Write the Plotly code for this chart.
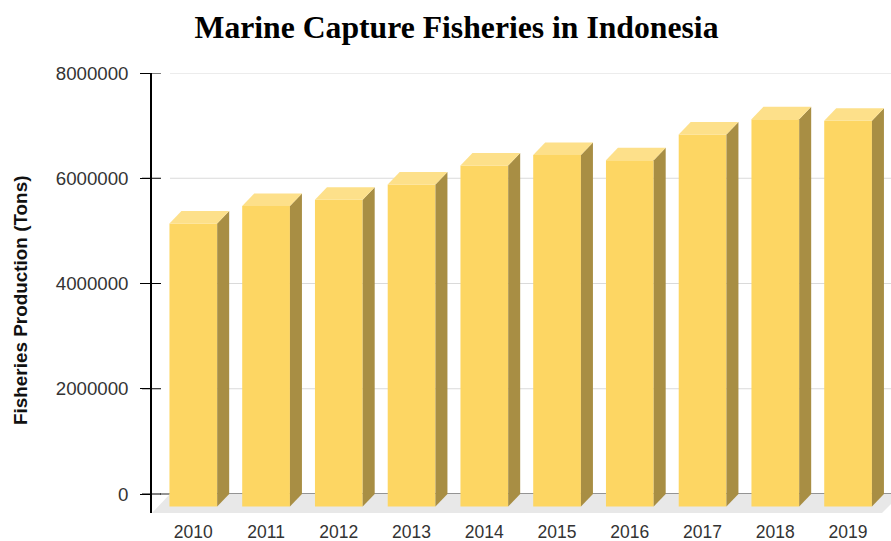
import plotly.graph_objects as go

# Marine capture fisheries production, Indonesia (tons)
years = ["2010", "2011", "2012", "2013", "2014", "2015", "2016", "2017", "2018", "2019"]
production = [5380000, 5710000, 5830000, 6120000, 6480000, 6680000, 6580000, 7070000, 7360000, 7330000]
y_ticks = [0, 2000000, 4000000, 6000000, 8000000]

# Page and plot-area geometry (pixels)
W, H = 891, 541
L, R, T, B = 152, 891, 73, 513
X_RANGE = [-0.568, 9.59]
Y_RANGE = [-361000, 8000000]

px_x = (R - L) / (X_RANGE[1] - X_RANGE[0])
px_y = (B - T) / (Y_RANGE[1] - Y_RANGE[0])


def xdata(px):
    return X_RANGE[0] + (px - L) / px_x


def ypx_data(px):
    return Y_RANGE[0] + (B - px) / px_y


def xpaper(px):
    return (px - L) / (R - L)


# Pseudo-3D column geometry
BAR_W = 0.656
DX = 12 / px_x          # depth shift to the right
DY = 12.5 / px_y        # depth shift upward
FRONT = "#fdd663"
TOP = "#fde08a"
SIDE = "#a88e44"

n = len(years)
idx = list(range(n))

fig = go.Figure()

# side and top faces of each column
for i, v in zip(idx, production):
    xl, xr = i - BAR_W / 2, i + BAR_W / 2
    fig.add_trace(go.Scatter(
        x=[xr, xr + DX, xr + DX, xr, xr],
        y=[-DY, 0, v, v - DY, -DY],
        mode="lines", fill="toself", fillcolor=SIDE,
        line=dict(width=0), hoverinfo="skip", showlegend=False))
    fig.add_trace(go.Scatter(
        x=[xl, xl + DX, xr + DX, xr, xl],
        y=[v - DY, v, v, v - DY, v - DY],
        mode="lines", fill="toself", fillcolor=TOP,
        line=dict(width=0), hoverinfo="skip", showlegend=False))

# front faces
fig.add_trace(go.Bar(
    x=idx, y=production, base=[-DY] * n, width=BAR_W,
    marker=dict(color=FRONT, line=dict(width=0)),
    customdata=years,
    hovertemplate="%{customdata}: %{y}<extra></extra>",
    showlegend=False))

shapes = []
# floor
shapes.append(dict(
    type="path", xref="x", yref="y", layer="below",
    path=(f"M {xdata(L)} {ypx_data(B)} L {xdata(882)} {ypx_data(B)} "
          f"L {xdata(901)} 0 L {xdata(170)} 0 Z"),
    fillcolor="#e8e8e8", line=dict(width=0)))
# grid lines on the back wall
for t in y_ticks[1:]:
    shapes.append(dict(type="line", xref="paper", yref="y", layer="below",
                       x0=xpaper(170), x1=1, y0=t, y1=t,
                       line=dict(color="#dadada", width=1)))
# base line
shapes.append(dict(type="line", xref="paper", yref="y", layer="below",
                   x0=xpaper(160), x1=1, y0=0, y1=0,
                   line=dict(color="#707070", width=1.5)))
# tick marks crossing the axis line
for t in y_ticks:
    shapes.append(dict(type="line", xref="paper", yref="y",
                       x0=xpaper(142), x1=xpaper(161), y0=t, y1=t,
                       line=dict(color="#000000", width=1)))

fig.update_layout(
    width=W, height=H,
    margin=dict(l=L, r=W - R, t=T, b=H - B),
    paper_bgcolor="white", plot_bgcolor="white",
    font=dict(family="Liberation Sans, Arial, sans-serif", color="#333333"),
    title=dict(text="<b>Marine Capture Fisheries in Indonesia</b>",
               font=dict(family="Liberation Serif, Times New Roman, serif",
                         size=31.7, color="#000000"),
               x=456.5 / W, xref="container", xanchor="center",
               y=1 - 27 / H, yref="container", yanchor="middle"),
    shapes=shapes,
    annotations=[dict(text="<b>Fisheries Production (Tons)</b>",
                      xref="paper", yref="paper",
                      x=xpaper(20), y=(B - 301) / (B - T),
                      xanchor="center", yanchor="middle",
                      textangle=-90, showarrow=False,
                      font=dict(size=18.9, color="#111111"))],
    xaxis=dict(range=X_RANGE, tickmode="array", tickvals=idx, ticktext=years,
               showgrid=False, zeroline=False, showline=False, ticks="",
               tickfont=dict(size=17.5, color="#333333"),
               ticklabelstandoff=6, fixedrange=True),
    yaxis=dict(range=Y_RANGE, tickmode="array", tickvals=y_ticks,
               ticktext=[str(t) for t in y_ticks],
               showgrid=False, zeroline=False,
               showline=True, linecolor="#000000", linewidth=1.5,
               ticks="outside", ticklen=10, tickcolor="#000000",
               tickfont=dict(size=18.7, color="#333333"),
               ticklabelstandoff=8, fixedrange=True),
)

fig.write_html("out.html")
